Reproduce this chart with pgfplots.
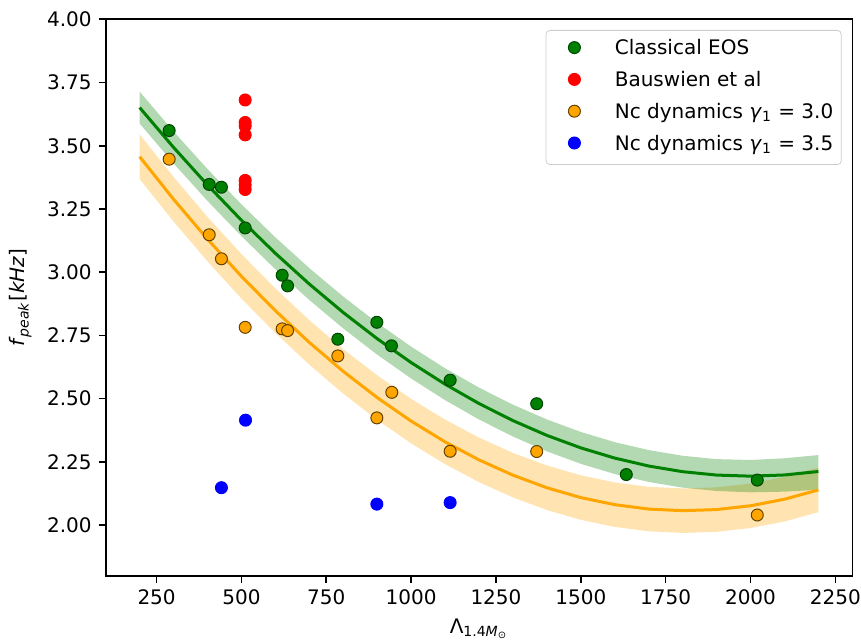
\documentclass[border=0pt]{standalone}
\usepackage{fontspec}
\setmainfont{DejaVu Sans}
\usepackage{pgfplots}
\pgfplotsset{compat=1.18}
\usepackage{pgfplotstable}
\usepgfplotslibrary{fillbetween}
\definecolor{mplgreen}{RGB}{0,128,0}
\definecolor{mplorange}{RGB}{255,165,0}
\definecolor{mplred}{RGB}{255,0,0}
\definecolor{mplblue}{RGB}{0,0,255}

\pgfplotstableread{
x y
287 3.560
405 3.347
441 3.336
511 3.175
620 2.988
636 2.946
899 2.802
784 2.735
942 2.709
1115 2.573
1370 2.480
1634 2.200
2020 2.178
}\greenpts

\pgfplotstableread{
x y
511 3.681
511 3.592
511 3.578
511 3.543
511 3.363
511 3.345
511 3.327
}\redpts

\pgfplotstableread{
x y
287 3.447
405 3.148
441 3.053
511 2.782
620 2.776
636 2.769
784 2.669
943 2.525
899 2.424
1115 2.292
1370 2.291
2020 2.040
}\orangepts

\pgfplotstableread{
x y
441 2.148
512 2.415
899 2.083
1115 2.089
}\bluepts

\pgfplotstableread{
x y lo hi
200 3.6510 3.5880 3.7140
300 3.4934 3.4304 3.5564
400 3.3448 3.2818 3.4078
500 3.2053 3.1423 3.2683
600 3.0747 3.0117 3.1377
700 2.9532 2.8902 3.0162
800 2.8406 2.7776 2.9036
900 2.7371 2.6741 2.8001
1000 2.6427 2.5797 2.7057
1100 2.5572 2.4942 2.6202
1200 2.4807 2.4177 2.5437
1300 2.4133 2.3503 2.4763
1400 2.3548 2.2918 2.4178
1500 2.3054 2.2424 2.3684
1600 2.2650 2.2020 2.3280
1700 2.2337 2.1707 2.2967
1800 2.2113 2.1483 2.2743
1900 2.1979 2.1349 2.2609
2000 2.1936 2.1296 2.2576
2100 2.1983 2.1323 2.2643
2200 2.2120 2.1400 2.2770
}\greenfit

\pgfplotstableread{
x y lo hi
200 3.4567 3.3687 3.5447
300 3.2883 3.2003 3.3763
400 3.1306 3.0426 3.2186
500 2.9837 2.8957 3.0717
600 2.8476 2.7596 2.9356
700 2.7223 2.6343 2.8103
800 2.6079 2.5199 2.6959
900 2.5042 2.4162 2.5922
1000 2.4113 2.3233 2.4993
1100 2.3292 2.2412 2.4172
1200 2.2579 2.1699 2.3459
1300 2.1975 2.1095 2.2855
1400 2.1478 2.0598 2.2358
1500 2.1089 2.0209 2.1969
1600 2.0808 1.9928 2.1688
1700 2.0635 1.9755 2.1515
1800 2.0571 1.9691 2.1451
1900 2.0614 1.9734 2.1494
2000 2.0765 1.9885 2.1645
2100 2.1024 2.0144 2.1904
2200 2.1391 2.0511 2.2271
}\orangefit

\begin{document}
\begin{tikzpicture}
\begin{axis}[
  scale only axis, width=373.3pt, height=278.2pt,
  xmin=100, xmax=2300, ymin=1.8, ymax=4.0,
  xtick={250,500,...,2250},
  ytick={2,2.25,2.5,2.75,3,3.25,3.5,3.75,4},
  tick align=outside, tick pos=left,
  major tick length=3.5pt,
  tick style={black, line width=0.8pt},
  axis line style={line width=0.8pt},
  ticklabel style={font=\fontsize{10}{12}\selectfont},
  /pgf/number format/assume math mode=true,
  scaled ticks=false,
  xticklabel style={/pgf/number format/.cd, fixed, precision=0, 1000 sep={}},
  yticklabel style={/pgf/number format/.cd, fixed, fixed zerofill, precision=2},
  xlabel={Λ\textsubscript{1.4\textit{M}\textsubscript{⊙}}},
  ylabel={\textit{f}\textsubscript{\textit{peak}}[\textit{kHz}]},
  label style={font=\fontsize{10}{12}\selectfont},
  xlabel style={at={(axis description cs:0.5,-0.103)}, anchor=base},
  ylabel style={at={(axis description cs:-0.114,0.5)}, anchor=center},
  legend cell align=left,
  legend image code/.code={\path (0pt,-5pt) (20pt,5pt); \draw[#1] plot coordinates {(10pt,1.1pt)};},
  legend style={at={(axis description cs:1,1)}, xshift=-5.3pt, yshift=-5.35pt, anchor=north east,
    draw=black!20, rounded corners=2pt, fill=white, inner xsep=4pt, inner ysep=4.5pt,
    font=\fontsize{10}{12}\selectfont, row sep=5.5pt, column sep=10pt,
    nodes={inner sep=0pt, text height=7.5pt, text depth=2.5pt}},
]
\addplot[only marks, mark=*, mark size=3pt, color=mplgreen, mark options={fill=mplgreen, draw=black!45!mplgreen, line width=0.5pt}] table[x=x,y=y] {\greenpts};
\addlegendentry{Classical EOS}
\addplot[only marks, mark=*, mark size=3pt, color=mplred, mark options={fill=mplred, draw=mplred, line width=0.5pt}] table[x=x,y=y] {\redpts};
\addlegendentry{Bauswien et al}
\addplot[only marks, mark=*, mark size=3pt, color=mplorange, mark options={fill=mplorange, draw=black!60!mplorange, line width=0.5pt}] table[x=x,y=y] {\orangepts};
\addlegendentry{Nc dynamics \textit{γ}\textsubscript{1} = 3.0}
\addplot[only marks, mark=*, mark size=3pt, color=mplblue, mark options={fill=mplblue, draw=mplblue, line width=0.5pt}] table[x=x,y=y] {\bluepts};
\addlegendentry{Nc dynamics \textit{γ}\textsubscript{1} = 3.5}

\addplot[name path=ou, draw=none, forget plot] table[x=x,y=hi] {\orangefit};
\addplot[name path=ol, draw=none, forget plot] table[x=x,y=lo] {\orangefit};
\addplot[fill=mplorange, fill opacity=0.3, draw=none, forget plot] fill between[of=ou and ol];
\addplot[mplorange, line width=1.5pt, forget plot] table[x=x,y=y] {\orangefit};

\addplot[name path=gu, draw=none, forget plot] table[x=x,y=hi] {\greenfit};
\addplot[name path=gl, draw=none, forget plot] table[x=x,y=lo] {\greenfit};
\addplot[fill=mplgreen, fill opacity=0.3, draw=none, forget plot] fill between[of=gu and gl];
\addplot[mplgreen, line width=1.5pt, forget plot] table[x=x,y=y] {\greenfit};
\end{axis}
\pgfresetboundingbox
\path[use as bounding box] ([xshift=-52.85pt,yshift=-33.15pt]current axis.south west) rectangle ([xshift=4.35pt,yshift=9.65pt]current axis.north east);
\end{tikzpicture}
\end{document}
